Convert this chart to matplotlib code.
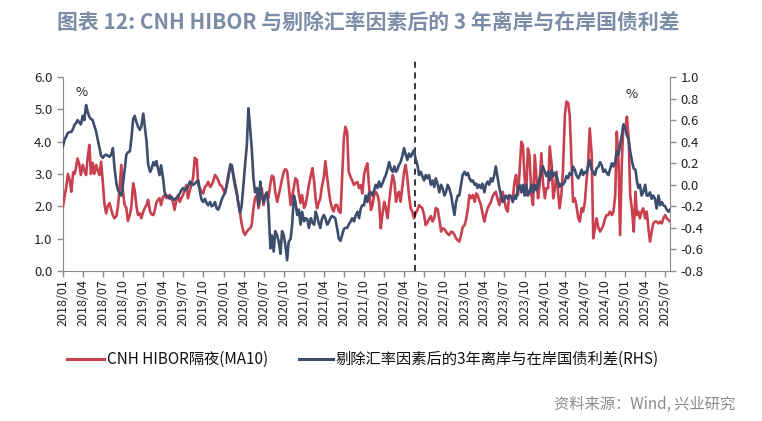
import matplotlib
matplotlib.use("Agg")
import matplotlib.pyplot as plt
import matplotlib.dates as mdates
import pandas as pd

plt.rcParams['font.family'] = ['Noto Sans CJK SC', 'DejaVu Sans']

# 数据: 每月 4 个观测点 (1, 8, 16, 23 日), 2018/01 - 2025/07
start_month = "2018-01-01"
n_months = 91
obs_days = [0, 7, 15, 22]

# CNH HIBOR 隔夜 (MA10), %, 左轴
hibor = [
    2.0, 2.3, 2.6, 3.0, 2.8, 2.45, 3.05, 3.0, 3.2, 3.48,
    3.3, 2.97, 3.28, 3.1, 2.97, 3.5, 3.9, 3.0, 3.35, 3.0,
    3.28, 3.1, 2.97, 3.38, 2.76, 2.1, 1.78, 2.0, 2.1, 1.9,
    1.72, 1.63, 1.7, 2.0, 2.6, 3.28, 2.45, 2.05, 1.95, 1.55,
    1.73, 2.0, 2.71, 2.5, 2.0, 1.73, 1.78, 1.63, 1.84, 1.95,
    2.04, 2.2, 1.84, 1.75, 1.73, 1.89, 2.1, 2.2, 2.25, 2.04,
    2.3, 2.35, 2.25, 2.3, 2.35, 2.25, 2.14, 1.89, 2.2, 2.35,
    2.14, 2.25, 2.35, 2.5, 2.66, 2.25, 2.5, 2.66, 2.9, 3.5,
    3.45, 2.66, 2.56, 2.45, 2.4, 2.6, 2.65, 2.76,
    2.6, 2.66, 2.8, 2.97, 2.9, 2.8, 2.66, 2.63, 2.5, 2.4,
    2.7, 3.0, 3.23, 3.18, 2.95, 2.7, 2.45, 2.1, 1.8, 1.47,
    1.2, 1.12, 1.22, 1.28, 1.32, 1.42, 1.94, 2.25, 2.35, 1.94,
    2.25, 2.56, 2.04, 2.35, 2.3, 2.25, 2.7, 2.95, 2.9, 2.45,
    2.14, 2.35, 2.6, 2.85, 3.07, 3.15, 3.1, 2.66, 2.04, 2.3,
    2.6, 2.87, 2.8, 2.4, 2.1, 2.35, 1.95, 2.05, 2.35, 2.66,
    2.97, 3.18, 2.76, 2.2, 1.94, 2.1, 2.25, 2.6, 2.9, 3.4,
    2.9, 2.5, 2.14, 1.95, 1.84, 2.04, 2.04, 1.85, 1.8, 2.87,
    4.1, 4.46, 4.3, 3.07, 2.9, 2.8, 2.66, 2.72, 2.75, 2.56,
    2.66, 2.4,
    2.97, 3.18, 3.33, 2.66, 1.89, 2.04, 2.35, 2.45, 2.35, 2.14,
    1.32, 1.73, 2.14, 1.94, 1.63, 2.14, 2.66, 2.97, 2.76, 2.14,
    2.35, 2.45, 2.14, 2.56, 3.07, 3.28, 2.87, 2.35, 1.94, 1.84,
    1.63, 1.78, 1.89, 2.04, 1.98, 1.94, 1.73, 1.42, 1.5, 1.6,
    1.7, 1.53, 1.63, 1.95, 1.9, 1.6, 1.22, 1.32, 1.3, 1.22,
    1.15, 1.11, 1.22, 1.2, 1.12, 1.01, 0.95, 0.91, 1.11, 1.35,
    1.42, 1.6, 1.94, 2.35, 2.25, 2.35, 2.14, 2.4, 2.35, 2.2,
    2.05, 1.8, 1.53, 1.75, 1.94, 2.04, 2.14, 2.3, 2.4, 2.45,
    2.2, 2.04, 2.35, 2.45, 2.2, 1.94, 1.84, 2.35, 2.3, 2.25,
    2.76,
    2.97, 2.35, 3.07, 4.0, 3.9, 2.87, 2.35, 3.79, 3.59, 2.35,
    2.04, 3.59, 2.97, 2.25, 2.66, 3.64, 2.76, 2.25, 2.56, 2.56,
    3.85, 3.28, 2.25, 2.56, 3.07, 2.45, 1.94, 2.35, 3.07, 4.82,
    5.24, 5.2, 4.82, 3.38, 2.14, 2.25, 2.04, 1.63, 1.53, 1.94,
    1.84, 2.14, 2.76, 3.38, 4.41, 3.59, 1.01, 1.32, 1.63, 1.32,
    1.22, 1.32, 1.42, 1.63, 1.73, 1.73, 1.84, 1.73, 1.84, 2.35,
    4.31, 3.38, 1.11, 3.38, 4.52, 4.41, 4.77, 4.1, 2.35, 1.84,
    1.22, 2.45, 1.73, 1.84, 1.63, 1.84, 1.94, 1.63, 1.84, 1.32,
    0.91, 1.22, 1.47, 1.53, 1.53, 1.47, 1.53, 1.47, 1.63, 1.73,
    1.63, 1.58, 1.53,
]

# 剔除汇率因素后的 3 年离岸与在岸国债利差, %, 右轴
spread = [
    0.36, 0.42, 0.45, 0.48, 0.49, 0.49, 0.52, 0.56, 0.57, 0.60,
    0.58, 0.56, 0.64, 0.60, 0.74, 0.68, 0.63, 0.61, 0.60, 0.55,
    0.49, 0.42, 0.34, 0.27, 0.25, 0.27, 0.28, 0.27, 0.26, 0.28,
    0.34, 0.16, 0.01, -0.05, -0.08, -0.10, 0.01, 0.13, 0.28, 0.30,
    0.31, 0.43, 0.61, 0.64, 0.58, 0.54, 0.51, 0.54, 0.66, 0.54,
    0.40, 0.19, 0.12, 0.15, 0.21, 0.18, 0.22, 0.16, 0.09, 0.18,
    0.06, -0.07, -0.10, -0.11, -0.13, -0.11, -0.13, -0.14, -0.12, -0.11,
    -0.08, -0.05, -0.03, -0.05, -0.04, -0.02, 0.03, 0.01, 0.00, 0.01,
    0.03, 0.04, -0.07, -0.14, -0.16, -0.13, -0.17, -0.19,
    -0.16, -0.20, -0.19, -0.16, -0.22, -0.23, -0.19, -0.14, -0.10, -0.07,
    0.00, 0.07, 0.19, 0.18, 0.06, -0.02, -0.08, -0.17, -0.26, -0.20,
    0.01, 0.19, 0.37, 0.71, 0.52, 0.34, 0.06, -0.07, -0.03, -0.19,
    0.03, -0.10, -0.16, -0.10, -0.07, -0.19, -0.59, -0.47, -0.62, -0.43,
    -0.47, -0.53, -0.64, -0.43, -0.47, -0.56, -0.70, -0.53, -0.50, -0.37,
    -0.10, -0.16, -0.28, -0.23, -0.37, -0.25, -0.34, -0.31, -0.32, -0.40,
    -0.31, -0.35, -0.37, -0.25, -0.29, -0.35, -0.40, -0.32, -0.28, -0.31,
    -0.37, -0.35, -0.31, -0.29, -0.30, -0.31, -0.41, -0.50, -0.52, -0.47,
    -0.41, -0.40, -0.40, -0.37, -0.34, -0.31, -0.34, -0.29, -0.25, -0.31,
    -0.22, -0.19,
    -0.19, -0.10, -0.16, -0.08, -0.07, -0.10, -0.05, 0.00, -0.03, 0.03,
    -0.02, 0.01, 0.06, 0.09, 0.15, 0.21, 0.14, 0.12, 0.17, 0.12,
    0.14, 0.18, 0.21, 0.26, 0.34, 0.28, 0.23, 0.29, 0.26, 0.29,
    0.32, 0.24, 0.18, 0.09, 0.12, 0.08, 0.04, 0.09, 0.06, 0.09,
    0.00, 0.04, -0.02, 0.06, 0.00, -0.07, 0.00, -0.03, -0.10, -0.07,
    0.00, -0.03, -0.10, -0.19, -0.28, -0.16, -0.10, -0.10, 0.00, 0.09,
    0.12, 0.09, 0.11, 0.06, 0.03, 0.04, 0.00, 0.01, -0.03, 0.00,
    -0.03, 0.01, -0.07, 0.00, 0.03, 0.00, 0.06, 0.03, 0.09, 0.17,
    0.06, -0.03, -0.10, -0.16, -0.13, -0.10, -0.13, -0.10, -0.11, -0.16,
    -0.10,
    -0.13, -0.03, 0.00, -0.07, 0.00, -0.10, 0.00, -0.10, -0.07, 0.00,
    -0.07, 0.00, -0.05, 0.00, 0.06, 0.12, 0.17, 0.12, 0.08, 0.12,
    0.04, 0.14, 0.08, 0.11, 0.08, 0.03, -0.02, 0.01, 0.00, 0.03,
    0.08, 0.06, 0.11, 0.09, 0.17, 0.14, 0.09, 0.06, 0.09, 0.14,
    0.09, 0.12, 0.11, 0.17, 0.23, 0.14, 0.12, 0.09, 0.15, 0.17,
    0.21, 0.18, 0.12, 0.14, 0.11, 0.09, 0.14, 0.20, 0.17, 0.21,
    0.31, 0.28, 0.37, 0.46, 0.56, 0.52, 0.46, 0.42, 0.31, 0.21,
    0.15, 0.14, 0.03, -0.03, 0.00, -0.10, -0.07, 0.00, -0.10, -0.10,
    -0.07, -0.13, -0.10, -0.13, -0.22, -0.10, -0.19, -0.16, -0.19, -0.20,
    -0.23, -0.25, -0.23,
]

split_date = "2022-05-22"

x_ticks = pd.date_range("2018-01-01", "2025-07-01", freq="3MS")
left_ticks = [0.0, 1.0, 2.0, 3.0, 4.0, 5.0, 6.0]
right_ticks = [-0.8, -0.6, -0.4, -0.2, 0.0, 0.2, 0.4, 0.6, 0.8, 1.0]

title = "图表 12: CNH HIBOR 与剔除汇率因素后的 3 年离岸与在岸国债利差"
label_hibor = "CNH HIBOR隔夜(MA10)"
label_spread = "剔除汇率因素后的3年离岸与在岸国债利差(RHS)"
source = "资料来源：Wind, 兴业研究"


def make_dates(n):
    months = pd.date_range(start_month, periods=n_months, freq="MS")
    d = [m + pd.Timedelta(days=k) for m in months for k in obs_days]
    return d[:n]


RED = "#C9404F"
BLUE = "#3C4D6E"
AXIS = "#8C8C8C"

fig = plt.figure(figsize=(7.62, 4.21), dpi=100)
ax = fig.add_axes([63 / 762, 1 - 271 / 421, 607 / 762, 194 / 421])
ax2 = ax.twinx()

ax.plot(make_dates(len(hibor)), hibor, color=RED, lw=1.9, zorder=3)
ax2.plot(make_dates(len(spread)), spread, color=BLUE, lw=1.9, zorder=3)

d_all = make_dates(len(hibor))
ax.set_xlim(d_all[0], d_all[-1])
ax.set_ylim(0, 6)
ax2.set_ylim(-0.8, 1.0)

ax.set_yticks(left_ticks)
ax.set_yticklabels([f"{v:.1f}" for v in left_ticks])
ax2.set_yticks(right_ticks)
ax2.set_yticklabels([f"{v:.1f}" for v in right_ticks])
ax.set_xticks(x_ticks)
ax.xaxis.set_major_formatter(mdates.DateFormatter("%Y/%m"))
plt.setp(ax.get_xticklabels(), rotation=90)

for a in (ax, ax2):
    a.spines["top"].set_visible(False)
    for s in ("left", "right", "bottom"):
        a.spines[s].set_color(AXIS)
    a.tick_params(colors=AXIS, labelcolor="#222222", labelsize=9.5,
                  length=4, width=1, direction="out")
ax.spines["right"].set_visible(False)
ax2.spines["left"].set_visible(False)
ax2.spines["bottom"].set_visible(False)
ax.tick_params(axis="x", labelsize=9, pad=2)

# 分隔虚线
ax.axvline(pd.Timestamp(split_date), ymin=0, ymax=1.105, color="black",
           lw=1.1, ls=(0, (4, 3)), clip_on=False, zorder=4)

ax.text(82 / 762, 1 - 93 / 421, "%", transform=fig.transFigure,
        ha="center", va="center", fontsize=9.5, color="#222222")
ax.text(632 / 762, 1 - 95 / 421, "%", transform=fig.transFigure,
        ha="center", va="center", fontsize=9.5, color="#222222")

fig.text(57 / 762, 1 - 22 / 421, title, ha="left", va="center",
         fontsize=15, fontweight="bold", color="#7B8DA6")

# 图例
leg_y = 1 - 359 / 421
fig.lines.append(plt.Line2D([67 / 762, 104 / 762], [leg_y, leg_y],
                            transform=fig.transFigure, color=RED, lw=2.2))
fig.text(107 / 762, leg_y, label_hibor, ha="left", va="center",
         fontsize=11, color="#111111")
fig.lines.append(plt.Line2D([299 / 762, 333 / 762], [leg_y, leg_y],
                            transform=fig.transFigure, color=BLUE, lw=2.2))
fig.text(336 / 762, leg_y, label_spread, ha="left", va="center",
         fontsize=11, color="#111111")

fig.text(735 / 762, 1 - 404 / 421, source, ha="right", va="center",
         fontsize=11, color="#8A8A8A")

fig.savefig("out.png", dpi=100)
